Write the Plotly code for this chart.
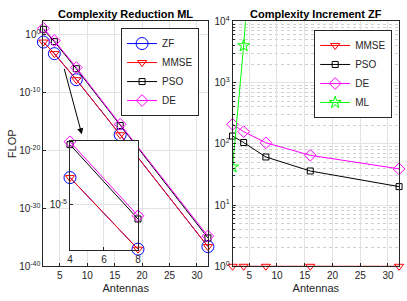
import plotly.graph_objects as go

W, H = 407, 301

# ---------------- data ----------------
antennas = [2, 4, 8, 16, 32]

# Left: Complexity Reduction ML (FLOP, log scale)
red_zf = [5.0e-2, 5.0e-4, 1.6e-8, 5.0e-18, 2.5e-37]
red_mmse = [5.0e-2, 5.0e-4, 1.6e-8, 5.0e-18, 2.5e-37]
red_pso = [7.9, 5.9e-2, 1.26e-6, 2.0e-16, 7.9e-36]
red_de = [11.5, 8.9e-2, 2.0e-6, 3.2e-16, 1.6e-35]

# Right: Complexity Increment ZF
inc_mmse = [1, 1, 1, 1, 1]
inc_pso = [134, 105, 61, 36, 20]
inc_de = [208, 158, 104, 65, 39]
inc_ml = [42, 4000, 3.5e8, 1e25, 1e60]

left_yticks = [1e0, 1e-10, 1e-20, 1e-30, 1e-40]
left_yticktext = ["10<sup>0</sup>", "10<sup>-10</sup>", "10<sup>-20</sup>", "10<sup>-30</sup>", "10<sup>-40</sup>"]
right_yticks = [1, 10, 100, 1000, 10000]
right_yticktext = ["10<sup>0</sup>", "10<sup>1</sup>", "10<sup>2</sup>", "10<sup>3</sup>", "10<sup>4</sup>"]
x_ticks = [5, 10, 15, 20, 25, 30]
inset_xticks = [4, 6, 8]
inset_yticks = [1e-5]
inset_yticktext = ["10<sup>-5</sup>"]

BLUE, RED, BLACK, MAG, GREEN = "#0000FF", "#FF0000", "#000000", "#FF00FF", "#00FF00"
AX = "#262626"
GRID = "#e3e3e3"
FONT = "Liberation Sans, Arial, sans-serif"

fig = go.Figure()

def add(x, y, name, color, symbol, size, xa, ya, legend=None, show=True, clip=False):
    fig.add_trace(go.Scatter(
        x=x, y=y, name=name, mode="lines+markers",
        line=dict(color=color, width=1),
        marker=dict(symbol=symbol, size=size, color=color, line=dict(color=color, width=1)),
        xaxis=xa, yaxis=ya, showlegend=show, legend=legend, cliponaxis=clip))

# left main
add(antennas, red_zf, "ZF", BLUE, "circle-open", 12, "x", "y", "legend")
add(antennas, red_mmse, "MMSE", RED, "triangle-down-open", 8, "x", "y", "legend")
add(antennas, red_pso, "PSO", BLACK, "square-open", 6, "x", "y", "legend")
add(antennas, red_de, "DE", MAG, "diamond-open", 9, "x", "y", "legend")

# inset (zoom of antennas 4..8)
sl = slice(1, 3)
add(antennas[sl], red_zf[sl], "ZF", BLUE, "circle-open", 12, "x3", "y3", show=False)
add(antennas[sl], red_mmse[sl], "MMSE", RED, "triangle-down-open", 8, "x3", "y3", show=False)
add(antennas[sl], red_pso[sl], "PSO", BLACK, "square-open", 6, "x3", "y3", show=False)
add(antennas[sl], red_de[sl], "DE", MAG, "diamond-open", 9, "x3", "y3", show=False)

# right
add(antennas, inc_mmse, "MMSE", RED, "triangle-down-open", 8, "x2", "y2", "legend2")
add(antennas, inc_pso, "PSO", BLACK, "square-open", 6, "x2", "y2", "legend2")
add(antennas, inc_de, "DE", MAG, "diamond-open", 9, "x2", "y2", "legend2")
add(antennas, inc_ml, "ML", GREEN, "star-open", 9, "x2", "y2", "legend2", clip=True)

def xd(a, b):
    return [a / W, b / W]

def yd(top, bottom):
    return [1 - bottom / H, 1 - top / H]

axis_common = dict(showline=True, linecolor=AX, linewidth=1, mirror=True, ticks="inside",
                   ticklen=3, tickcolor=AX, showgrid=True, gridcolor=GRID, zeroline=False,
                   tickfont=dict(family=FONT, size=10, color=AX))

fig.update_layout(
    width=W, height=H, margin=dict(l=0, r=0, t=0, b=0),
    paper_bgcolor="white", plot_bgcolor="white",
    font=dict(family=FONT, size=10, color=AX),
    xaxis=dict(domain=xd(41, 208), range=[2, 32], tickvals=x_ticks, anchor="y",
               title=dict(text="Antennas", font=dict(size=11), standoff=4), **axis_common),
    yaxis=dict(domain=yd(15, 271), type="log", range=[-40, 2.27], tickvals=left_yticks,
               ticktext=left_yticktext, anchor="x",
               title=dict(text="FLOP", font=dict(size=11), standoff=0), **axis_common),
    xaxis2=dict(domain=xd(233, 402), range=[2, 32], tickvals=x_ticks, anchor="y2",
                title=dict(text="Antennas", font=dict(size=11), standoff=4), **axis_common),
    yaxis2=dict(domain=yd(15, 271), type="log", range=[0, 4], tickvals=right_yticks,
                ticktext=right_yticktext, anchor="x2",
                minor=dict(dtick="D1", ticks="inside", ticklen=2, tickcolor=AX, showgrid=True,
                           gridcolor="#d0d0d0", griddash="dot"),
                **axis_common),
    xaxis3=dict(domain=xd(68, 137), range=[4, 8], tickvals=inset_xticks, anchor="y3", **axis_common),
    yaxis3=dict(domain=yd(140, 254), type="log", range=[-7.85, -1.0], tickvals=inset_yticks,
                ticktext=inset_yticktext, anchor="x3", **axis_common),
    legend=dict(x=199 / W, y=1 - 22 / H, xanchor="right", yanchor="top", bgcolor="white",
                bordercolor=AX, borderwidth=1, font=dict(size=10, color=AX), tracegroupgap=0,
                itemwidth=30),
    legend2=dict(x=395 / W, y=1 - 24 / H, xanchor="right", yanchor="top", bgcolor="white",
                 bordercolor=AX, borderwidth=1, font=dict(size=10, color=AX), tracegroupgap=0,
                 itemwidth=30),
    showlegend=True,
    annotations=[
        dict(text="<b>Complexity Reduction ML</b>", x=124.5 / W, y=1 - 7 / H, xref="paper",
             yref="paper", showarrow=False, font=dict(size=11, color="black"),
             xanchor="center", yanchor="middle"),
        dict(text="<b>Complexity Increment ZF</b>", x=317.5 / W, y=1 - 7 / H, xref="paper",
             yref="paper", showarrow=False, font=dict(size=11, color="black"),
             xanchor="center", yanchor="middle"),
        dict(text="", x=80 / W, y=1 - 133 / H, xref="paper", yref="paper", showarrow=True,
             ax=-18, ay=-67, arrowhead=2, arrowsize=1.2, arrowwidth=1, arrowcolor="black"),
    ],
)

fig.write_html("out.html", config={"displayModeBar": False},
               post_script="document.body.style.margin='0px';")
